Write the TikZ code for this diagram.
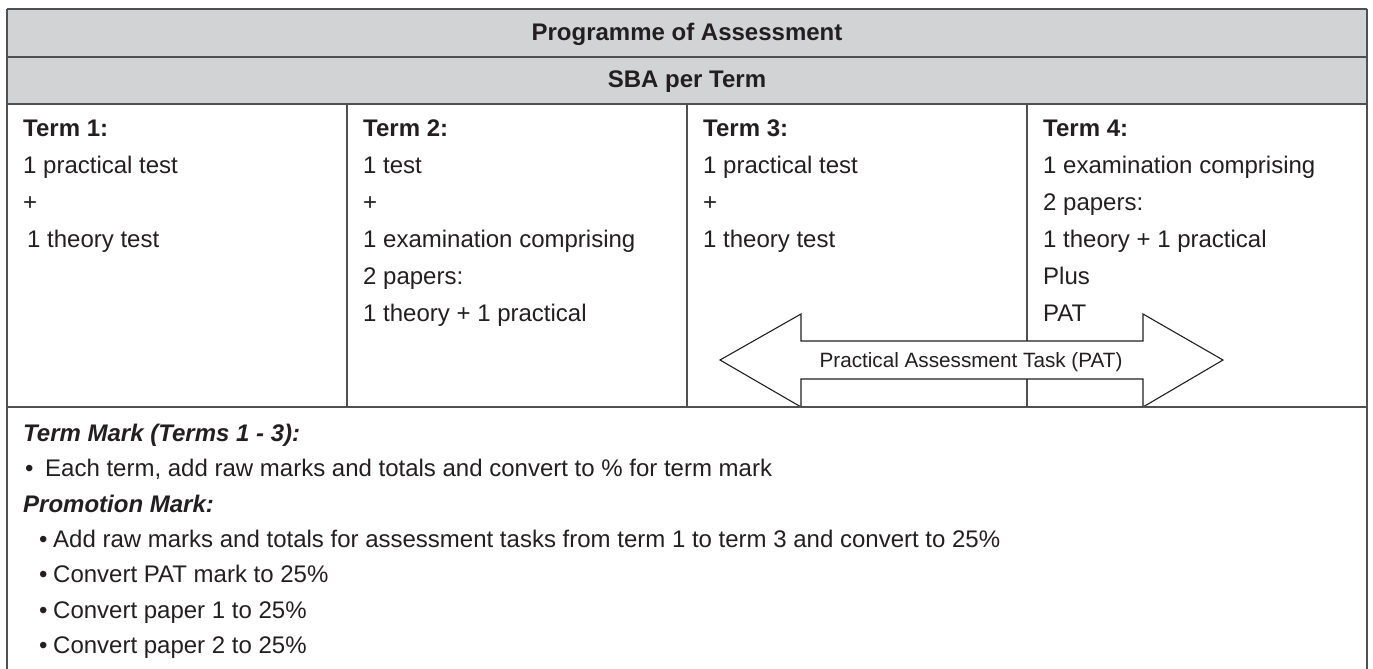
\documentclass[tikz,border=0pt]{standalone}
\usepackage{fontspec}
\setmainfont{Liberation Sans}
\definecolor{headgray}{RGB}{209,211,212}
\definecolor{rulegray}{RGB}{80,80,82}
\definecolor{inkgray}{RGB}{35,31,32}

\begin{document}
\begin{tikzpicture}[x=1pt,y=-1pt,
		cell/.style={anchor=base west, inner sep=0pt, text=inkgray, font=\fontsize{24}{28}\selectfont},
		bcell/.style={cell, font=\fontsize{24}{28}\selectfont\bfseries},
		icell/.style={cell, font=\fontsize{24}{28}\selectfont\bfseries\itshape},
		head/.style={anchor=base, inner sep=0pt, text=inkgray, font=\fontsize{24}{28}\selectfont\bfseries},
		rule/.style={draw=rulegray, line width=1.8pt},
		thinrule/.style={draw=rulegray, line width=1.3pt}]
		\useasboundingbox (0,0) rectangle (1373,669);

		% Header rows
		\fill[headgray] (7,9) rectangle (1367,104);
		\node[head] (title) at (687,41) {Programme of Assessment};
		\node[head] (sba) at (687,88) {SBA per Term};

		% Column dividers
		\foreach \x in {347,687,1027} \draw[thinrule] (\x,104) -- (\x,407);

		% Term columns
		\foreach \c/\x in {1/23,2/363,3/703,4/1043} \node[bcell] (term\c) at (\x,136) {Term \c:};
		\foreach [count=\k] \txt in {1 practical test, +, {\hspace{4pt}1 theory test}}
			\node[cell] (one\k) at (23,{136+37*\k}) {\txt};
		\foreach [count=\k] \txt in {1 test, +, 1 examination comprising, 2 papers:, 1 theory + 1 practical}
			\node[cell] (two\k) at (363,{136+37*\k}) {\txt};
		\foreach [count=\k] \txt in {1 practical test, +, 1 theory test}
			\node[cell] (three\k) at (703,{136+37*\k}) {\txt};
		\foreach [count=\k] \txt in {1 examination comprising, 2 papers:, 1 theory + 1 practical, Plus, PAT}
			\node[cell] (four\k) at (1043,{136+37*\k}) {\txt};

		% PAT arrow across terms 3 and 4
		\draw[draw=inkgray, line width=1.1pt, fill=white, line join=miter]
			(720,360) -- (801,314) -- (801,341) -- (1143,341) -- (1143,314) -- (1223,360)
			-- (1143,407) -- (1143,379) -- (801,379) -- (801,407) -- cycle;
		\node[anchor=base, inner sep=0pt, text=inkgray, font=\fontsize{20.7}{24}\selectfont] (pat) at (971,367.5) {Practical Assessment Task (PAT)};

		% Table rules
		\foreach \y in {9,57,104,407} \draw[rule] (7,\y) -- (1367,\y);
		\draw[rule] (7,9) -- (7,669);
		\draw[rule] (1367,9) -- (1367,669);

		% Marks
		\node[icell] (termmark) at (23,441) {Term Mark (Terms 1 - 3):};
		\node[cell] (dot0) at (25,476) {•};
		\node[cell] (each) at (45,476) {Each term, add raw marks and totals and convert to \% for term mark};
		\node[icell] (promo) at (23,512) {Promotion Mark:};
		\foreach [count=\k] \txt in {Add raw marks and totals for assessment tasks from term 1 to term 3 and convert to 25\%, Convert PAT mark to 25\%, Convert paper 1 to 25\%, Convert paper 2 to 25\%} {
			\node[cell] (dot\k) at (39,{511.4+35.6*\k}) {•};
			\node[cell] (promo\k) at (53,{511.4+35.6*\k}) {\txt};
		}
	\end{tikzpicture}
\end{document}
